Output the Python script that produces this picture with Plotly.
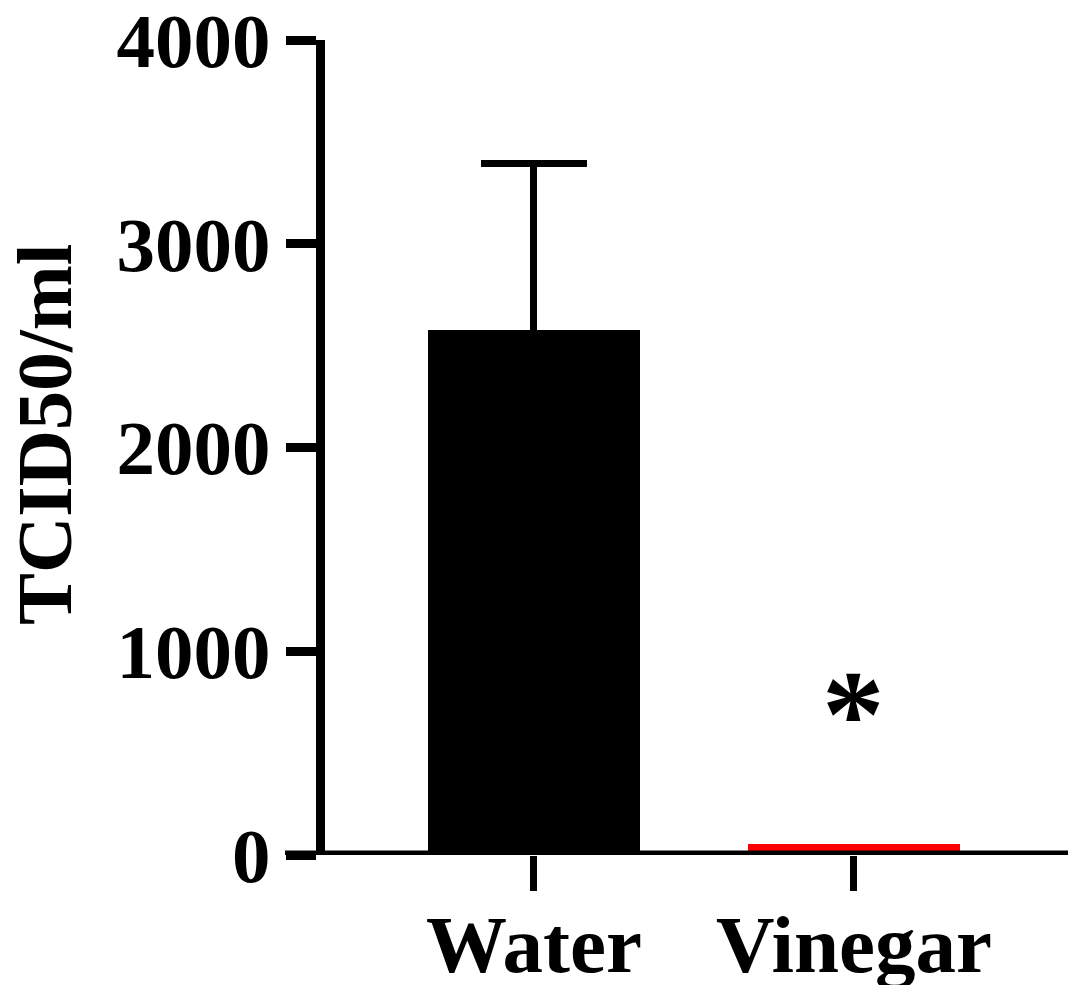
import plotly.graph_objects as go

categories = ["Water", "Vinegar"]
means = [2577, 55]
err = [819, None]
bar_colors = ["#000000", "#ff0000"]
y_ticks = [0, 1000, 2000, 3000, 4000]
y_title = "TCID50/ml"
sig_label = "*"
sig_y = 690

x_pos = list(range(len(categories)))
FONT = "Liberation Serif"

fig = go.Figure()
for xp, m, e, c in zip(x_pos, means, err, bar_colors):
    eb = dict(visible=False)
    if e is not None:
        eb = dict(type="data", array=[e], symmetric=True, visible=True,
                  color="black", thickness=7, width=53)
    fig.add_trace(go.Bar(
        x=[xp], y=[m], width=0.6625,
        marker=dict(color=c, line=dict(width=0)),
        error_y=eb, showlegend=False,
    ))

fig.add_annotation(x=x_pos[1], y=sig_y, text=sig_label, showarrow=False,
                   font=dict(family=FONT, size=125, color="black", weight="bold"),
                   xanchor="center", yanchor="middle")

# y axis title
fig.add_annotation(xref="paper", yref="paper", x=(44 - 325) / 743, y=(855 - 435) / 815,
                   text=y_title, textangle=-90, showarrow=False,
                   xanchor="center", yanchor="middle",
                   font=dict(family=FONT, size=78, color="black", weight="bold"))

# x axis baseline (extends left past y axis, GraphPad style)
fig.add_shape(type="line", xref="paper", yref="y", x0=-40/743, x1=1, y0=0, y1=0,
              line=dict(color="black", width=9), layer="above")

fig.update_layout(
    width=1068, height=985,
    margin=dict(l=325, r=0, t=40, b=130, autoexpand=False),
    plot_bgcolor="white", paper_bgcolor="white",
    barmode="overlay", bargap=0,
)
fig.update_xaxes(
    range=[-0.653, 1.669], tickvals=x_pos, ticktext=categories,
    showline=False, showgrid=False, zeroline=False, automargin=False,
    ticks="outside", ticklen=35, tickwidth=7, tickcolor="black",
    ticklabelstandoff=-16, ticklabeloverflow="allow",
    tickfont=dict(family=FONT, size=81, color="black", weight="bold"),
)
fig.update_yaxes(
    range=[0, 4000], tickvals=y_ticks, automargin=False,
    showline=True, linewidth=9, linecolor="black",
    showgrid=False, zeroline=False,
    ticks="outside", ticklen=30, tickwidth=9, tickcolor="black",
    ticklabeloverflow="allow",
    tickfont=dict(family=FONT, size=77, color="black", weight="bold"),
)

fig.write_html("out.html", config={"displayModeBar": False},
               post_script="document.body.style.margin='0';document.body.style.padding='0';")
